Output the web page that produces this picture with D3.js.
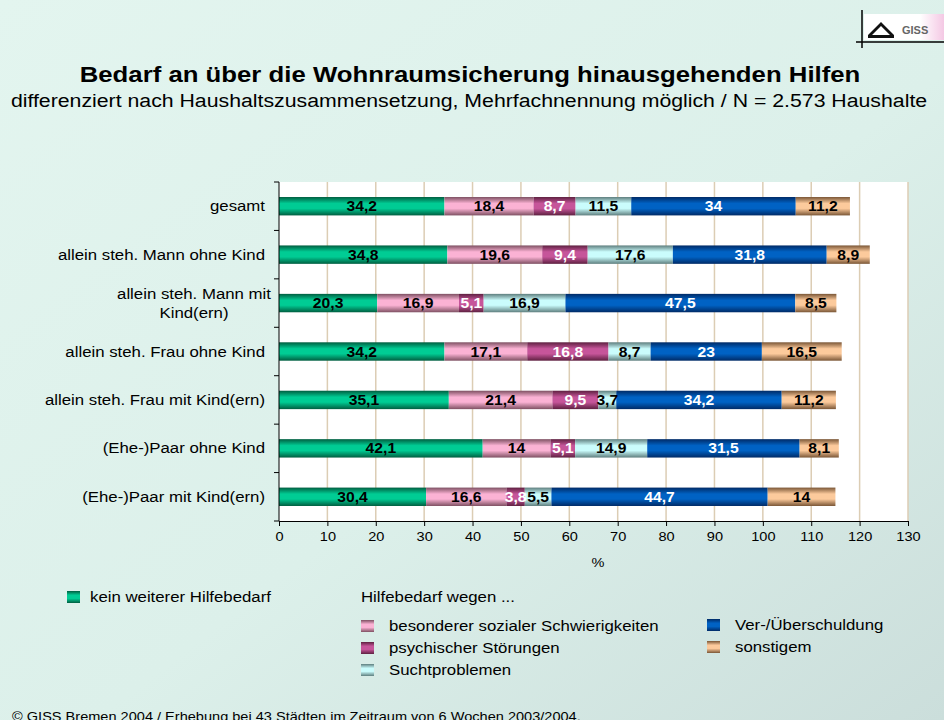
<!DOCTYPE html>
<html>
<head>
<meta charset="utf-8">
<script src="https://cdn.jsdelivr.net/npm/d3@7"></script>
<style>
  body { margin: 0; padding: 0; }
  svg { display: block; font-family: Arial, "Liberation Sans", sans-serif; }
</style>
</head>
<body>
<div id="chart-area"></div>
<script>
// categories (top to bottom)
var categories = [
    'gesamt',
    'allein steh. Mann ohne Kind',
    'allein steh. Mann mit Kind(ern)',
    'allein steh. Frau ohne Kind',
    'allein steh. Frau mit Kind(ern)',
    '(Ehe-)Paar ohne Kind',
    '(Ehe-)Paar mit Kind(ern)'
];

var keinWeiterer   = [34.2, 34.8, 20.3, 34.2, 35.1, 42.1, 30.4];
var sozialeSchw    = [18.4, 19.6, 16.9, 17.1, 21.4, 14, 16.6];
var psychisch      = [8.7, 9.4, 5.1, 16.8, 9.5, 5.1, 3.8];
var sucht          = [11.5, 17.6, 16.9, 8.7, 3.7, 14.9, 5.5];
var verschuldung   = [34, 31.8, 47.5, 23, 34.2, 31.5, 44.7];
var sonstiges      = [11.2, 8.9, 8.5, 16.5, 11.2, 8.1, 14];

var xTicks = [0, 10, 20, 30, 40, 50, 60, 70, 80, 90, 100, 110, 120, 130];

var series = [
    { key: 'kein', label: 'kein weiterer Hilfebedarf', values: keinWeiterer, light: '#00cc94', dark: '#005e40', text: '#000' },
    { key: 'soz', label: 'besonderer sozialer Schwierigkeiten', values: sozialeSchw, light: '#fbb2d4', dark: '#7e5062', text: '#000' },
    { key: 'psy', label: 'psychischer Störungen', values: psychisch, light: '#c6559a', dark: '#5e2040', text: '#fff' },
    { key: 'such', label: 'Suchtproblemen', values: sucht, light: '#cafcfc', dark: '#5e7e7e', text: '#000' },
    { key: 'ver', label: 'Ver-/Überschuldung', values: verschuldung, light: '#0062c4', dark: '#002a66', text: '#fff' },
    { key: 'son', label: 'sonstigem', values: sonstiges, light: '#fcca9c', dark: '#7a5636', text: '#000' }
];

var W = 944, H = 720;
var plot = { left: 279, right: 908, top: 182, bottom: 521 };
var SX = 1.12; // the original lettering is a bit wider than Liberation Sans

var svg = d3.select('#chart-area')
    .append('svg')
    .attr('width', W)
    .attr('height', H);

// text helper: places text at (x, y) stretched horizontally
function txt(parent, x, y, str, size, anchor, bold) {
    return parent.append('text')
        .attr('transform', `translate(${x}, ${y}) scale(${SX}, 1)`)
        .attr('text-anchor', anchor || 'start')
        .attr('font-size', size + 'px')
        .attr('font-weight', bold ? 'bold' : 'normal')
        .text(str);
}

var defs = svg.append('defs');

var bg = defs.append('linearGradient')
    .attr('id', 'bg')
    .attr('x1', 0).attr('y1', 0).attr('x2', 1).attr('y2', 1);
bg.append('stop').attr('offset', '0%').attr('stop-color', '#e3f5ef');
bg.append('stop').attr('offset', '55%').attr('stop-color', '#dcf0ea');
bg.append('stop').attr('offset', '100%').attr('stop-color', '#cbdedb');

series.forEach(s => {
    var g = defs.append('linearGradient')
        .attr('id', 'grad-' + s.key)
        .attr('x1', 0).attr('y1', 0).attr('x2', 0).attr('y2', 1);
    g.append('stop').attr('offset', '0%').attr('stop-color', s.dark);
    g.append('stop').attr('offset', '35%').attr('stop-color', s.light);
    g.append('stop').attr('offset', '62%').attr('stop-color', s.light);
    g.append('stop').attr('offset', '100%').attr('stop-color', s.dark);
});

var logoGrad = defs.append('linearGradient')
    .attr('id', 'logo-fade')
    .attr('x1', 0).attr('y1', 0).attr('x2', 1).attr('y2', 0);
logoGrad.append('stop').attr('offset', '0%').attr('stop-color', '#ffffff');
logoGrad.append('stop').attr('offset', '70%').attr('stop-color', '#ffffff');
logoGrad.append('stop').attr('offset', '100%').attr('stop-color', '#f4c8e4');

svg.append('rect')
    .attr('width', W)
    .attr('height', H)
    .attr('fill', 'url(#bg)');

// logo
svg.append('rect')
    .attr('x', 864).attr('y', 14).attr('width', 80).attr('height', 26)
    .attr('fill', 'url(#logo-fade)');
svg.append('line')
    .attr('x1', 862).attr('x2', 862).attr('y1', 10).attr('y2', 48)
    .attr('stroke', '#000').attr('stroke-width', 1.5);
svg.append('line')
    .attr('x1', 856).attr('x2', 944).attr('y1', 42).attr('y2', 42)
    .attr('stroke', '#000').attr('stroke-width', 1.5);
svg.append('path')
    .attr('d', 'M868,35 L881,22 L894,35 L890,35 L881,26 L872,35 Z')
    .attr('fill', '#111');
svg.append('rect')
    .attr('x', 868).attr('y', 35).attr('width', 26).attr('height', 3)
    .attr('fill', '#111');
svg.append('text')
    .attr('x', 902).attr('y', 34)
    .attr('font-size', '11px').attr('font-weight', 'bold')
    .attr('fill', '#666')
    .text('GISS');

// titles
txt(svg, 470, 82, 'Bedarf an über die Wohnraumsicherung hinausgehenden Hilfen', 23, 'middle', true);
txt(svg, 469, 107, 'differenziert nach Haushaltszusammensetzung, Mehrfachnennung möglich / N = 2.573 Haushalte', 19, 'middle');

var x = d3.scaleLinear()
    .domain([0, 130])
    .range([plot.left, plot.right]);

var y = d3.scaleBand()
    .domain(categories)
    .range([plot.top, plot.bottom])
    .paddingInner(0.62)
    .paddingOuter(0.31);

var g = svg.append('g');

g.append('rect')
    .attr('x', plot.left).attr('y', plot.top)
    .attr('width', plot.right - plot.left).attr('height', plot.bottom - plot.top)
    .attr('fill', '#fff');

// gridlines
g.selectAll('.grid')
    .data(xTicks.slice(1))
    .enter()
    .append('line')
    .attr('class', 'grid')
    .attr('x1', d => x(d)).attr('x2', d => x(d))
    .attr('y1', plot.top).attr('y2', plot.bottom)
    .attr('stroke', '#dccdb4')
    .attr('stroke-width', 1.5);

// stacked bars
var stackData = categories.map((c, i) => {
    var row = { cat: c, idx: i };
    series.forEach(s => { row[s.key] = s.values[i]; });
    return row;
});
var stack = d3.stack().keys(series.map(s => s.key));
var layers = stack(stackData);

layers.forEach((layer, li) => {
    var s = series[li];
    g.append('g').selectAll('rect')
        .data(layer)
        .enter()
        .append('rect')
        .attr('x', d => x(d[0]))
        .attr('y', d => y(d.data.cat))
        .attr('width', d => x(d[1]) - x(d[0]))
        .attr('height', y.bandwidth())
        .attr('fill', 'url(#grad-' + s.key + ')');
});

// value labels
layers.forEach((layer, li) => {
    var s = series[li];
    var lg = g.append('g').attr('fill', s.text);
    layer.forEach(d => {
        var cx = (x(d[0]) + x(d[1])) / 2;
        var cy = y(d.data.cat) + y.bandwidth() / 2 + 5;
        txt(lg, cx, cy, String(s.values[d.data.idx]).replace('.', ','), 14, 'middle', true);
    });
});

// axes
var xAxisGroup = g.append('g')
    .attr('transform', `translate(0, ${plot.bottom})`)
    .call(d3.axisBottom(x).tickValues(xTicks).tickSize(5).tickSizeOuter(0));
xAxisGroup.select('.domain').attr('stroke', '#000');
xAxisGroup.selectAll('.tick line').attr('stroke', '#000');
xAxisGroup.selectAll('text')
    .attr('font-size', '13px')
    .attr('font-family', 'Arial, "Liberation Sans", sans-serif')
    .attr('fill', '#000')
    .attr('dy', '0.95em')
    .attr('y', 8)
    .attr('transform', `scale(${SX}, 1)`);

txt(g, 598, 567, '%', 13, 'middle');

// left axis line and boundary ticks
var step = y.step();
var bounds = categories.map(c => y(c) - step * 0.31).concat([plot.bottom]);
g.append('line')
    .attr('x1', plot.left).attr('x2', plot.left)
    .attr('y1', plot.top).attr('y2', plot.bottom)
    .attr('stroke', '#000');
g.selectAll('.ytick')
    .data(bounds)
    .enter()
    .append('line')
    .attr('class', 'ytick')
    .attr('x1', plot.left - 5).attr('x2', plot.left)
    .attr('y1', d => d).attr('y2', d => d)
    .attr('stroke', '#000');

// category labels
var catLines = {
    'allein steh. Mann mit Kind(ern)': ['allein steh. Mann mit', 'Kind(ern)']
};
categories.forEach(c => {
    var cy = y(c) + y.bandwidth() / 2;
    var lines = catLines[c];
    if (lines) {
        txt(g, 194, cy - 4, lines[0], 15, 'middle');
        txt(g, 194, cy + 15, lines[1], 15, 'middle');
    } else {
        txt(g, 265, cy + 5, c, 15, 'end');
    }
});

// legend
var legend = svg.append('g');

function legendItem(s, lx, ly) {
    legend.append('rect')
        .attr('x', lx).attr('y', ly - 6)
        .attr('width', 13).attr('height', 12)
        .attr('fill', 'url(#grad-' + s.key + ')');
    txt(legend, lx + (s.key === 'kein' ? 23 : 28), ly + 5, s.label, 15);
}

legendItem(series[0], 67, 597);
txt(legend, 361, 602, 'Hilfebedarf wegen ...', 15);
legendItem(series[1], 361, 626);
legendItem(series[2], 361, 648);
legendItem(series[3], 361, 670);
legendItem(series[4], 707, 625);
legendItem(series[5], 707, 647);

// footer
txt(svg, 12, 721, '© GISS Bremen 2004 / Erhebung bei 43 Städten im Zeitraum von 6 Wochen 2003/2004.', 13);
</script>
</body>
</html>
